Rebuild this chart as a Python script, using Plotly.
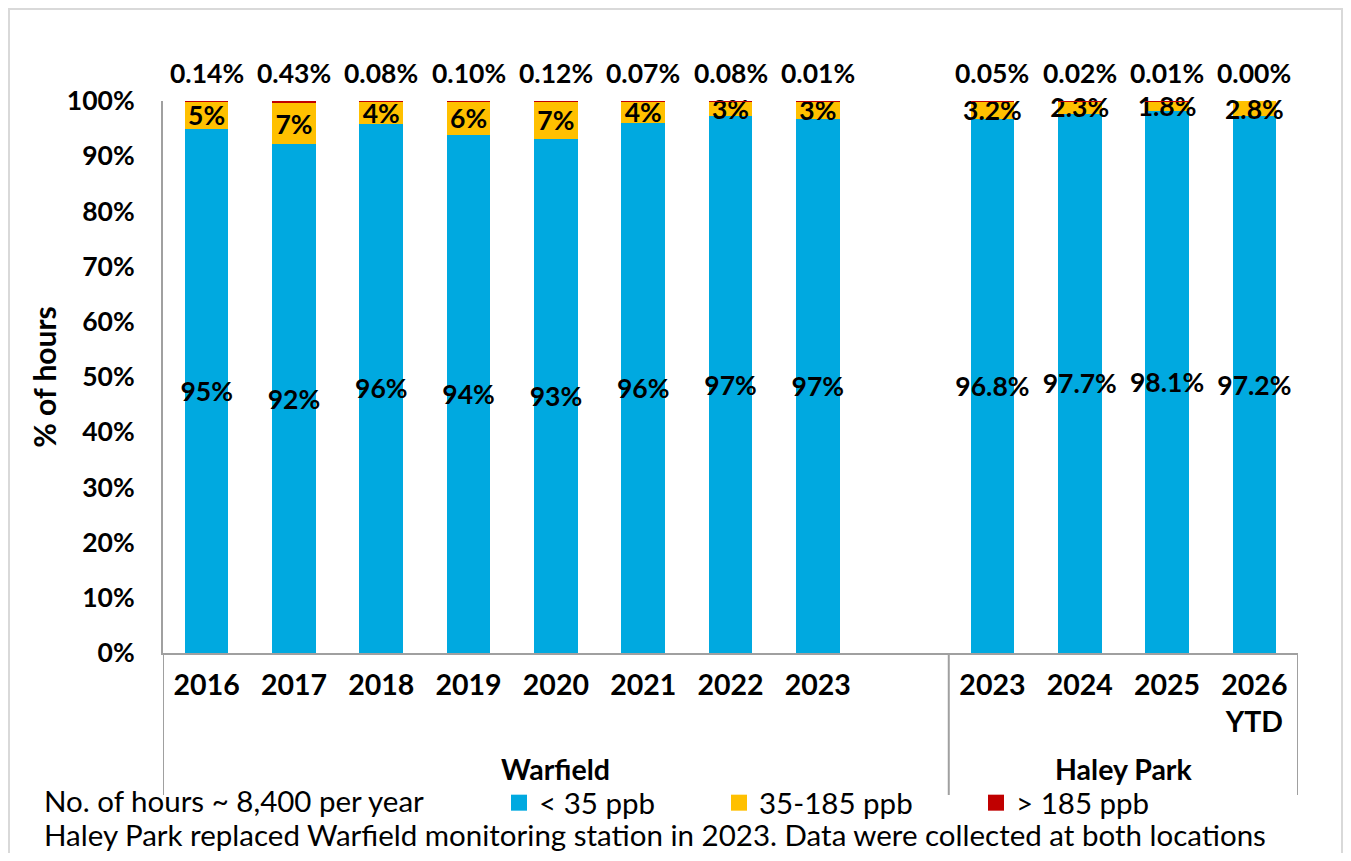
import plotly.graph_objects as go

# ---------------- data ----------------
warfield_years = ["2016", "2017", "2018", "2019", "2020", "2021", "2022", "2023"]
haley_years = ["2023", "2024", "2025", "2026<br>YTD"]
group_labels = ["Warfield", "Haley Park"]

warfield_low = [94.9, 92.2, 95.9, 93.9, 93.1, 96.1, 97.2, 96.8]      # < 35 ppb
warfield_mid = [4.96, 7.37, 4.02, 6.00, 6.78, 3.83, 2.72, 3.19]      # 35-185 ppb
warfield_high = [0.14, 0.43, 0.08, 0.10, 0.12, 0.07, 0.08, 0.01]     # > 185 ppb

haley_low = [96.78, 97.69, 98.14, 97.20]
haley_mid = [3.17, 2.29, 1.84, 2.80]
haley_high = [0.05, 0.02, 0.01, 0.00]

series_names = ["< 35 ppb", "35-185 ppb", "> 185 ppb"]
colors = ["#00A9E0", "#FFC000", "#C00000"]

y_ticks = list(range(0, 101, 10))

footnote1 = "No. of hours ~ 8,400 per year"
footnote2 = "Haley Park replaced Warfield monitoring station in 2023. Data were collected at both locations"

# ---------------- build ----------------
n_w, n_h = len(warfield_years), len(haley_years)
# unique category keys (station + year), an empty slot separates the two stations
keys = ([f"{group_labels[0]} {y}" for y in warfield_years] + ["gap"]
        + [f"{group_labels[1]} {y}" for y in haley_years])
tick_text = warfield_years + [""] + haley_years
group_centers = [n_w / 2, n_w + 1 + (n_h - 1) / 2]
dividers = [-0.5, n_w + 0.5, n_w + n_h + 0.5]

low = warfield_low + [None] + haley_low
mid = warfield_mid + [None] + haley_mid
high = warfield_high + [None] + haley_high

low_txt = [f"{v:.0f}%" for v in warfield_low] + [""] + [f"{v:.1f}%" for v in haley_low]
mid_txt = [f"{v:.0f}%" for v in warfield_mid] + [""] + [f"{v:.1f}%" for v in haley_mid]
high_txt = [f"{v:.2f}%" for v in warfield_high] + [""] + [f"{v:.2f}%" for v in haley_high]

FONT = "Lato"
NUM = dict(family=FONT, size=26.5, color="black", weight="bold")
XLBL = dict(family=FONT, size=28.5, color="black", weight="bold")
REG = dict(family=FONT, size=29.5, color="black")
AXIS_GRAY = "#A0A0A0"

# figure sits inside the page's 8px body margin
OFF = 8
W, H = 1351 - 2 * OFF, 861 - 2 * OFF
L, T = 163 - OFF, 101 - OFF
R = W - (1298 - OFF)
B = H - (653 - OFF)
PW, PH = W - L - R, H - T - B


def px_x(p):  # page px -> paper
    return (p - OFF - L) / PW


def px_y(p):
    return (H - B - (p - OFF)) / PH


fig = go.Figure()
for vals, txt, name, col in zip([low, mid, high], [low_txt, mid_txt, ["" for _ in high]],
                                series_names, colors):
    fig.add_trace(go.Bar(
        x=keys, y=vals, name=name, marker=dict(color=col, line=dict(width=0)),
        text=txt, textposition="inside", insidetextanchor="middle",
        textangle=0, constraintext="none", textfont=NUM,
        showlegend=False, hoverinfo="skip", cliponaxis=False,
    ))

# legend keys (square swatches), one legend per series
legends = ["legend", "legend2", "legend3"]
for name, col, lg in zip(series_names, colors, legends):
    fig.add_trace(go.Scatter(
        x=[keys[0]], y=[None], mode="markers", name=name,
        marker=dict(symbol="square", size=16, color=col),
        legend=lg, showlegend=True, hoverinfo="skip",
    ))

annotations = []
# "> 185 ppb" share labels above each stack
for i, (a, b, c, t) in enumerate(zip(low, mid, high, high_txt)):
    if a is None:
        continue
    annotations.append(dict(x=i, y=min(round(a + b + c, 6), 100), xref="x", yref="y", text=t,
                            showarrow=False, yanchor="middle", yshift=28, font=NUM))
# station names under the years
for gx, gname in zip(group_centers, group_labels):
    annotations.append(dict(x=gx, y=px_y(769), xref="x", yref="paper", text=gname,
                            showarrow=False, yanchor="middle", font=XLBL))
annotations += [
    dict(text=footnote1, xref="paper", yref="paper", x=px_x(43), y=px_y(800),
         xanchor="left", yanchor="middle", showarrow=False, font=REG, borderpad=0),
    dict(text=footnote2, xref="paper", yref="paper", x=px_x(43), y=-B / PH,
         xanchor="left", yanchor="bottom", showarrow=False, font=REG, borderpad=0),
]

shapes = [dict(type="line", xref="x", yref="paper", x0=d, x1=d, y0=0, y1=px_y(795),
               line=dict(color=AXIS_GRAY, width=2), layer="above") for d in dividers]
shapes.append(dict(type="rect", xref="paper", yref="paper",
                   x0=px_x(9), x1=px_x(1342), y0=px_y(900), y1=px_y(9),
                   line=dict(color="#D9D9D9", width=2), layer="below"))

leg_common = dict(orientation="h", yanchor="middle", xanchor="left", font=REG,
                  bgcolor="rgba(0,0,0,0)", y=px_y(803), itemclick=False)

fig.update_layout(
    width=W, height=H, showlegend=True,
    margin=dict(l=L, r=R, t=T, b=B, autoexpand=False),
    barmode="stack", bargap=0.5,
    plot_bgcolor="white", paper_bgcolor="white",
    font=dict(family=FONT, color="black"),
    xaxis=dict(
        type="category", range=[-0.5, len(keys) - 0.5],
        tickvals=keys, ticktext=tick_text,
        showgrid=False, showline=True, linecolor=AXIS_GRAY, linewidth=2,
        ticks="", tickfont=XLBL, ticklabelstandoff=6,
    ),
    yaxis=dict(
        range=[0, 100], tickvals=y_ticks, ticktext=[f"{v}%" for v in y_ticks],
        showgrid=False, showline=True, linecolor=AXIS_GRAY, linewidth=2, ticks="",
        tickfont=NUM, ticklabelstandoff=21, zeroline=False,
        title=dict(text="% of hours", font=dict(family=FONT, size=30, color="black", weight="bold"),
                   standoff=1),
    ),
    legend=dict(x=px_x(499), **leg_common),
    legend2=dict(x=px_x(719), **leg_common),
    legend3=dict(x=px_x(976), **leg_common),
    shapes=shapes,
    annotations=annotations,
)

fig.write_html("out.html")
